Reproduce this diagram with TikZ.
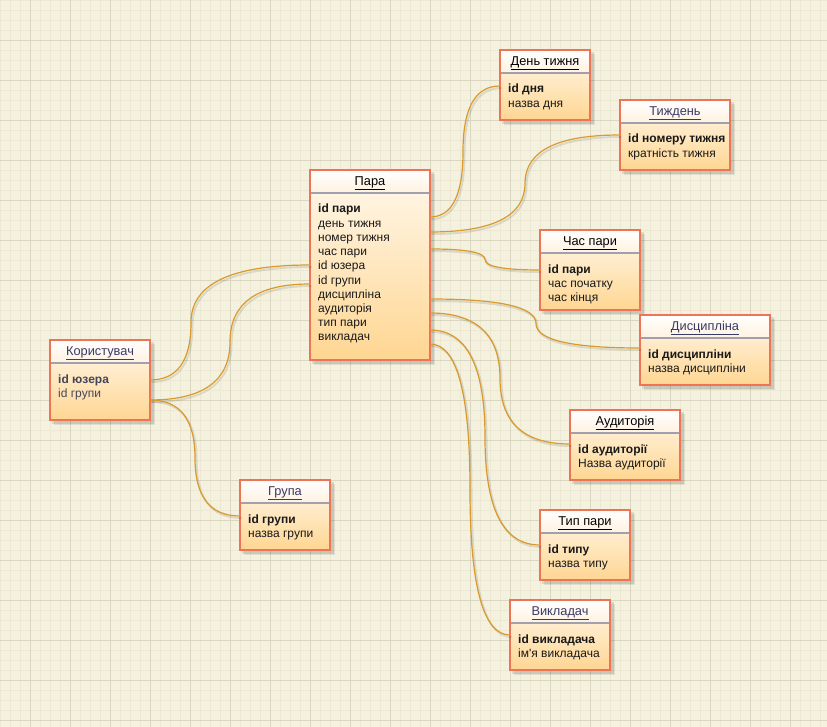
\documentclass[tikz,border=0pt]{standalone}
\usepackage{fontspec}
\setmainfont{Liberation Sans}
\usetikzlibrary{calc}

\definecolor{paper}{HTML}{F4F1DF}
\definecolor{gridminor}{HTML}{ECE8D4}
\definecolor{gridmajor}{HTML}{DAD6C0}
\definecolor{bodytop}{HTML}{FFF8EC}
\definecolor{bodybot}{HTML}{FFD692}
\definecolor{headbot}{HTML}{FFF2E0}
\definecolor{boxborder}{HTML}{EE7456}
\definecolor{sepgray}{HTML}{A0A0AE}
\definecolor{linkcol}{HTML}{D99A2B}
\definecolor{navy}{HTML}{3A3A66}
\definecolor{inkgray}{HTML}{45455A}

\tikzset{
  erbody/.style={draw=none, top color=bodytop, bottom color=bodybot,
                 inner sep=0pt, outer sep=0pt},
  border/.style={draw=boxborder, line width=1.5pt},
  sepline/.style={draw=sepgray, line width=1.4pt},
  titletext/.style={anchor=base, inner sep=0pt, font=\fontsize{12.8}{15}\selectfont},
  entry/.style={anchor=base west, inner sep=0pt, text=black!90,
                font=\fontsize{12}{14}\selectfont},
  erlink/.style={draw=linkcol, line width=1.2pt},
  linkshade/.style={draw=black, opacity=.10, line width=2pt,
                    transform canvas={xshift=1.5pt, yshift=-2pt}},
}

% entity box: name, left, top, width, height, title
\newcommand\erentity[6]{%
  \fill[black, opacity=.10] (#2+2,#3+2) rectangle ++(#4+2,#5+2);
  \fill[black, opacity=.08] (#2+4,#3+4) rectangle ++(#4+1,#5+1);
  \node[erbody, minimum width=#4, minimum height=#5, anchor=north west] (#1) at (#2,#3) {};
  \shade[top color=white, bottom color=headbot]
    (#1.north west) rectangle ($(#1.north east)+(0,23)$);
  \draw[sepline] ($(#1.north west)+(0,23)$) -- ($(#1.north east)+(0,23)$);
  \draw[border] (#1.north west) rectangle (#1.south east);
  \node[titletext] (#1-title) at ($(#1.north)+(0,15.5)$) {#6};
}

% attribute lines of an entity box
\newcommand\erentries[2]{%
  \foreach \t [count=\i] in {#2}
    \node[entry] (#1-\i) at ($(#1.north west)+(8,{43+14.2*(\i-1)})$) {\t};
}

% curved connector: start, end, x of the vertical run
\newcommand\erconnect[3]{%
  \path (#3,0 |- #1) coordinate (q1) (#3,0 |- #2) coordinate (q2)
        ($(q1)!.5!(q2)$) coordinate (qm);
  \foreach \sty in {linkshade,erlink}
    \draw[\sty] (#1) .. controls ($(#1)!2/3!(q1)$) and ($(qm)!2/3!(q1)$) .. (qm)
                     .. controls ($(qm)!2/3!(q2)$) and ($(#2)!2/3!(q2)$) .. (#2);
}

\begin{document}
\begin{tikzpicture}[x=1pt, y=-1pt]
  % paper and grid
  \fill[paper] (0,0) rectangle (827,727);
  \useasboundingbox (0,0) rectangle (827,727);
  \foreach \k in {0,10,...,820} \draw[gridminor, line width=1pt] (\k+.5,0) -- (\k+.5,727);
  \foreach \k in {0,10,...,720} \draw[gridminor, line width=1pt] (0,\k+.5) -- (827,\k+.5);
  \foreach \k in {30,70,...,820} \draw[gridmajor, line width=1pt] (\k+.5,0) -- (\k+.5,727);
  \foreach \k in {40,80,...,720} \draw[gridmajor, line width=1pt] (0,\k+.5) -- (827,\k+.5);

  % entities
  \erentity{para}{310}{170}{120}{190}{\underline{Пара}}
  \erentries{para}{{\textbf{id пари}},день тижня,номер тижня,час пари,id юзера,id групи,дисципліна,аудиторія,тип пари,викладач}

  \erentity{koryst}{50}{340}{100}{80}{\color{navy}\underline{Користувач}}
  \erentries{koryst}{{\color{inkgray}\textbf{id юзера}},{\color{inkgray}id групи}}

  \erentity{den}{500}{50}{90}{70}{\underline{День тижня}}
  \erentries{den}{{\textbf{id дня}},назва дня}

  \erentity{tyzhd}{620}{100}{110}{70}{\color{navy}\underline{Тиждень}}
  \erentries{tyzhd}{{\textbf{id номеру тижня}},кратність тижня}

  \erentity{chas}{540}{230}{100}{80}{\underline{Час пари}}
  \erentries{chas}{{\textbf{id пари}},час початку,час кінця}

  \erentity{dysc}{640}{315}{130}{70}{\color{navy}\underline{Дисципліна}}
  \erentries{dysc}{{\textbf{id дисципліни}},назва дисципліни}

  \erentity{audyt}{570}{410}{110}{70}{\underline{Аудиторія}}
  \erentries{audyt}{{\textbf{id аудиторії}},Назва аудиторії}

  \erentity{typ}{540}{510}{90}{70}{\underline{Тип пари}}
  \erentries{typ}{{\textbf{id типу}},назва типу}

  \erentity{vykl}{510}{600}{100}{70}{\color{navy}\underline{Викладач}}
  \erentries{vykl}{{\textbf{id викладача}},ім\textquotesingle я викладача}

  \erentity{hrupa}{240}{480}{90}{70}{\color{navy}\underline{Група}}
  \erentries{hrupa}{{\textbf{id групи}},назва групи}

  % connector end points on the box edges
  \coordinate (pa1) at (para.east |- 0,217);
  \coordinate (pa2) at (para.east |- 0,232);
  \coordinate (pa3) at (para.east |- 0,249);
  \coordinate (pa4) at (para.east |- 0,299);
  \coordinate (pa5) at (para.east |- 0,313);
  \coordinate (pa6) at (para.east |- 0,330);
  \coordinate (pa7) at (para.east |- 0,344);
  \coordinate (pa8) at (para.west |- 0,265);
  \coordinate (pa9) at (para.west |- 0,284);
  \coordinate (ko1) at (koryst.east |- 0,380);
  \coordinate (ko2) at (koryst.east |- 0,400);
  \coordinate (de1) at (den.west |- 0,86);
  \coordinate (ty1) at (tyzhd.west |- 0,135);
  \coordinate (ch1) at (chas.west |- 0,270);
  \coordinate (dy1) at (dysc.west |- 0,348);
  \coordinate (au1) at (audyt.west |- 0,444);
  \coordinate (tp1) at (typ.west |- 0,545);
  \coordinate (vy1) at (vykl.west |- 0,635);
  \coordinate (hr1) at (hrupa.west |- 0,516);

  % connectors
  \erconnect{pa1}{de1}{463}
  \erconnect{pa2}{ty1}{525}
  \erconnect{pa3}{ch1}{485}
  \erconnect{pa4}{dy1}{536}
  \erconnect{pa5}{au1}{500}
  \erconnect{pa6}{tp1}{485}
  \erconnect{pa7}{vy1}{470}
  \erconnect{ko1}{pa8}{191}
  \erconnect{ko2}{pa9}{230}
  \erconnect{ko2}{hr1}{195}
\end{tikzpicture}
\end{document}
